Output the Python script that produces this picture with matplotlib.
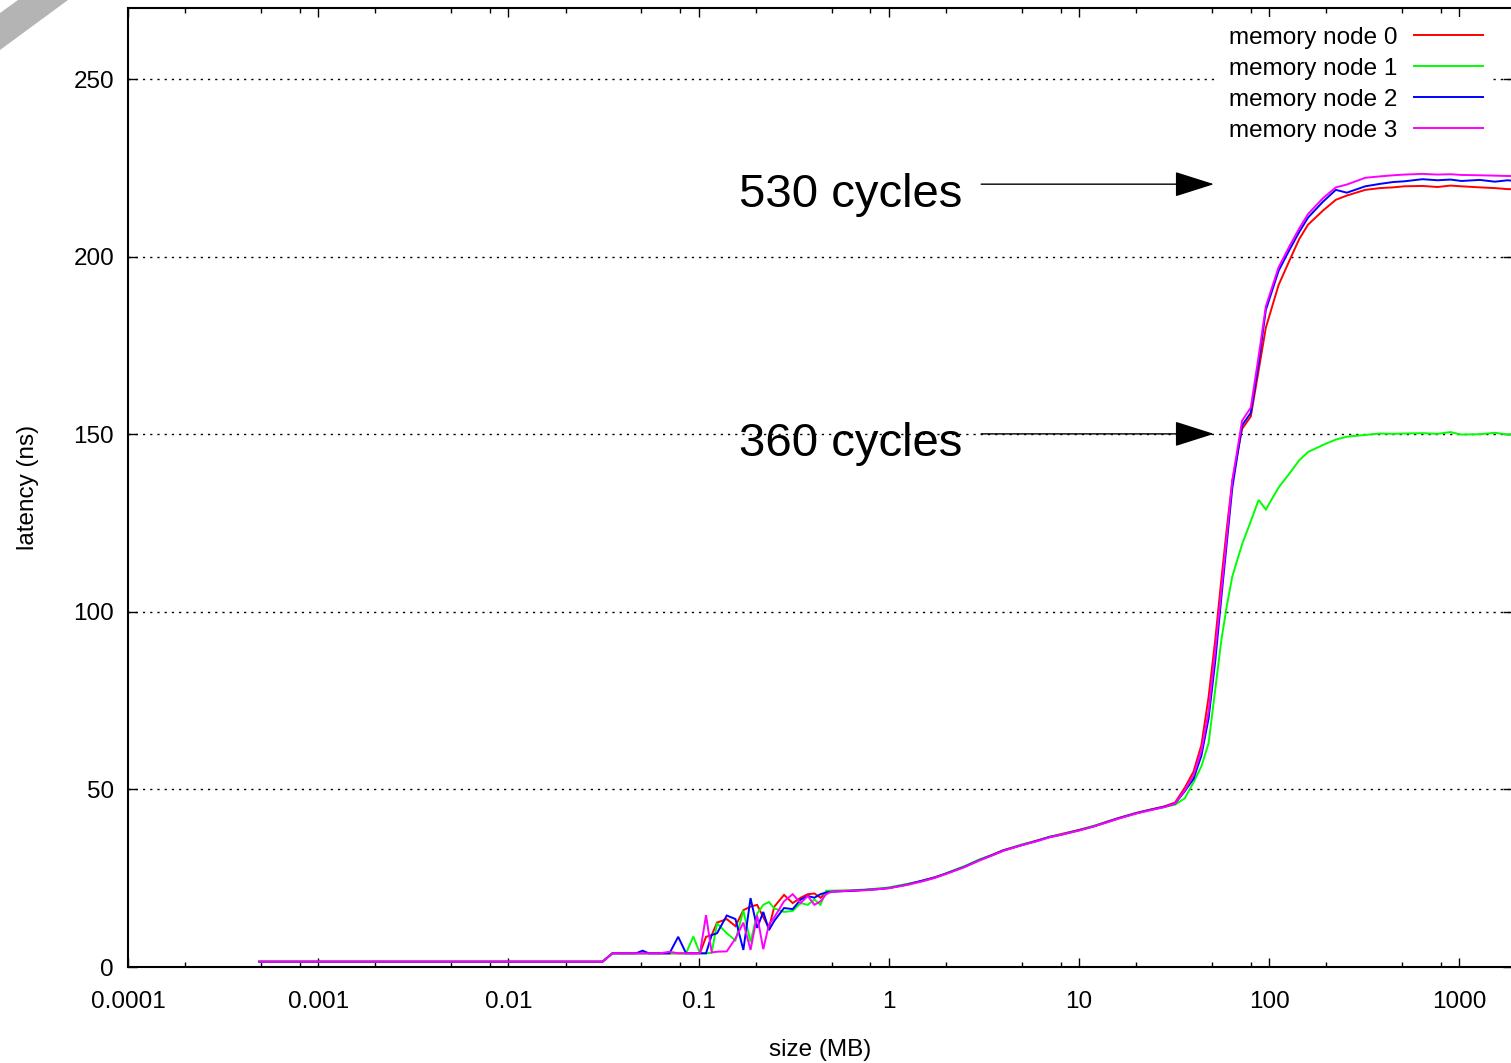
import matplotlib
matplotlib.use('Agg')
import matplotlib.pyplot as plt
from matplotlib.ticker import LogLocator, FixedLocator, FixedFormatter, NullFormatter
from matplotlib.patches import Polygon

plt.rcParams['font.family'] = ['Liberation Sans', 'DejaVu Sans']

# ---------------- data ----------------
sizes_mb = [
    0.00049, 0.00098, 0.00195, 0.0039, 0.0078, 0.0156, 0.03125,
    0.0352, 0.0391, 0.043, 0.0469, 0.0508, 0.0547, 0.0586, 0.0625,
    0.0703, 0.0781, 0.0859, 0.0938, 0.1016, 0.1094, 0.1172, 0.125,
    0.1406, 0.1562, 0.1719, 0.1875, 0.2031, 0.2188, 0.2344, 0.25,
    0.2812, 0.3125, 0.3438, 0.375, 0.4062, 0.4375, 0.4688, 0.5,
    0.625, 0.75, 0.875, 1, 1.25, 1.5, 1.75, 2,
    2.5, 3, 3.5, 4, 5, 6, 7, 8,
    10, 12, 14, 16, 20, 24, 28, 32,
    36, 40, 44, 48, 52, 56, 60, 64,
    72, 80, 88, 96, 112, 128, 144, 160,
    192, 224, 256, 320, 384, 448, 512, 640,
    768, 896, 1024, 1280, 1536, 1792, 2048,
]

node0 = [
    1.5, 1.5, 1.5, 1.5, 1.5, 1.5, 1.5,
    3.85, 3.85, 3.85, 3.85, 3.85, 3.85, 3.85, 3.85,
    3.85, 3.85, 3.85, 3.85, 3.9, 8.5, 9.0, 12.5,
    13.5, 11.5, 16.0, 17.0, 17.5, 14.0, 11.0, 17.0,
    20.3, 18.0, 19.5, 20.5, 20.7, 19.5, 21.0, 21.3,
    21.5, 21.7, 22.0, 22.3, 23.3, 24.3, 25.3, 26.3,
    28.3, 30.2, 31.6, 32.9, 34.4, 35.6, 36.6, 37.4,
    38.6, 39.7, 40.9, 41.9, 43.4, 44.4, 45.2, 46.3,
    50.5, 55.0, 62.5, 76.0, 92.0, 109.0, 124.0, 137.0,
    151.5, 155.0, 168.0, 180.0, 192.0, 199.0, 205.0, 209.0,
    213.0, 216.0, 217.2, 218.8, 219.3, 219.5, 219.8, 219.9,
    219.6, 220.0, 219.8, 219.5, 219.3, 219.0, 219.0,
]

node1 = [
    1.5, 1.5, 1.5, 1.5, 1.5, 1.5, 1.5,
    3.85, 3.85, 3.85, 3.85, 3.85, 3.85, 3.85, 3.85,
    3.85, 3.85, 3.85, 8.6, 3.85, 3.85, 4.0, 12.3,
    9.5, 7.5, 15.9, 7.0, 15.0, 17.5, 18.3, 16.5,
    15.5, 15.8, 18.0, 17.5, 19.0, 17.5, 21.5, 21.5,
    21.6, 21.8, 22.1, 22.4, 23.4, 24.2, 25.2, 26.4,
    28.4, 30.3, 31.5, 32.8, 34.5, 35.5, 36.7, 37.3,
    38.5, 39.8, 40.8, 41.8, 43.3, 44.3, 45.0, 45.7,
    47.5, 52.0, 56.5, 63.0, 78.0, 92.0, 102.0, 110.0,
    119.0, 125.5, 131.5, 128.8, 135.0, 139.0, 142.7, 145.0,
    147.0, 148.5, 149.3, 149.8, 150.2, 150.1, 150.2, 150.3,
    150.1, 150.6, 149.9, 150.0, 150.4, 149.9, 150.1,
]

node2 = [
    1.5, 1.5, 1.5, 1.5, 1.5, 1.5, 1.5,
    3.85, 3.85, 3.85, 3.85, 4.6, 3.85, 3.85, 3.85,
    3.85, 8.5, 3.85, 3.85, 3.85, 3.85, 9.0, 9.5,
    14.5, 13.5, 4.8, 19.4, 11.0, 15.5, 10.4, 13.0,
    16.6, 16.3, 19.0, 20.0, 19.5, 20.5, 21.0, 21.2,
    21.4, 21.7, 21.9, 22.2, 23.2, 24.3, 25.2, 26.3,
    28.2, 30.1, 31.5, 32.8, 34.3, 35.5, 36.6, 37.2,
    38.5, 39.6, 40.8, 41.8, 43.3, 44.3, 45.1, 46.0,
    49.5, 53.0, 59.5, 70.0, 86.0, 104.0, 120.0, 135.0,
    152.5, 156.0, 170.0, 185.0, 196.0, 202.0, 207.0, 211.0,
    215.5, 218.8, 218.0, 219.8, 220.5, 221.0, 221.2, 221.8,
    221.5, 221.7, 221.3, 221.6, 221.1, 221.5, 221.2,
]

node3 = [
    1.5, 1.5, 1.5, 1.5, 1.5, 1.5, 1.5,
    3.85, 3.85, 3.85, 3.85, 3.85, 3.85, 3.85, 3.85,
    4.3, 3.85, 3.85, 3.85, 3.85, 14.6, 4.1, 4.3,
    4.4, 8.0, 12.5, 4.8, 14.5, 5.0, 12.0, 14.0,
    18.5, 20.5, 18.0, 20.0, 17.5, 18.5, 20.5, 21.2,
    21.5, 21.6, 21.9, 22.2, 23.1, 24.1, 25.1, 26.2,
    28.1, 30.0, 31.4, 32.7, 34.3, 35.4, 36.5, 37.2,
    38.4, 39.6, 40.7, 41.7, 43.2, 44.2, 45.0, 46.0,
    49.8, 54.0, 61.0, 72.0, 89.0, 106.0, 122.0, 137.0,
    153.8, 157.5, 172.0, 186.0, 197.0, 203.0, 208.0, 212.0,
    216.5, 219.5, 220.3, 222.2, 222.6, 222.9, 223.1, 223.3,
    223.1, 223.2, 223.0, 222.9, 222.8, 222.7, 222.7,
]

series_labels = ['memory node 0', 'memory node 1', 'memory node 2', 'memory node 3']
series_colors = ['#ff0000', '#00ff00', '#0000ff', '#ff00ff']

xtick_values = [1e-4, 1e-3, 1e-2, 0.1, 1, 10, 100, 1000]
xtick_labels = ['0.0001', '0.001', '0.01', '0.1', '1', '10', '100', '1000']
ytick_values = [0, 50, 100, 150, 200, 250]

annot_texts = ['530 cycles', '360 cycles']
annot_levels = [220.4, 150.1]

# ---------------- figure ----------------
W, H = 1511, 1063
fig = plt.figure(figsize=(W / 100, H / 100), dpi=100)
ax = fig.add_axes([128 / W, (H - 967) / H, (1512 - 128) / W, (967 - 8) / H])

for ys, lab, col in zip([node0, node1, node2, node3], series_labels, series_colors):
    ax.plot(sizes_mb, ys, color=col, lw=1.4, label=lab, solid_joinstyle='miter')

ax.set_xscale('log')
ax.set_xlim(1e-4, 1890)
ax.set_ylim(0, 270)

ax.xaxis.set_major_locator(FixedLocator(xtick_values))
ax.xaxis.set_major_formatter(FixedFormatter(xtick_labels))
ax.xaxis.set_minor_locator(LogLocator(base=10, subs=[2, 5, 8], numticks=20))
ax.xaxis.set_minor_formatter(NullFormatter())
ax.yaxis.set_major_locator(FixedLocator(ytick_values))

ax.tick_params(which='both', direction='in', top=True, right=True, width=1.0, colors='black')
ax.tick_params(which='major', length=6.5)
ax.tick_params(which='minor', length=3.5)
ax.tick_params(axis='x', which='major', labelsize=17.5, pad=17)
ax.tick_params(axis='y', which='major', labelsize=17.5, pad=10)

for s in ['left', 'bottom', 'top']:
    ax.spines[s].set_linewidth(1.5)
ax.spines['right'].set_visible(False)

ax.yaxis.grid(True, color='black', linestyle=(0, (1.6, 3.6)), linewidth=1.0)
ax.set_axisbelow(True)

ax.set_xlabel('size (MB)', fontsize=17.5)
ax.xaxis.set_label_coords(0.5, -0.075)
ax.set_ylabel('latency (ns)', fontsize=17.5)
ax.yaxis.set_label_coords(-0.064, 0.5)

for txt, lev in zip(annot_texts, annot_levels):
    ax.annotate('', xy=(51.2, lev), xytext=(3.06, lev),
                arrowprops=dict(arrowstyle='-|>,head_length=1.26,head_width=0.4',
                                mutation_scale=20, color='black', lw=1.0,
                                shrinkA=0, shrinkB=0))
    ax.text(2.43, lev - 6.3, txt, fontsize=34, ha='right', va='baseline', color='black')

leg = ax.legend(loc='upper right', bbox_to_anchor=(0.9896, 0.9958), markerfirst=False,
                frameon=True, facecolor='white', edgecolor='none', framealpha=1.0,
                fontsize=17.5, handlelength=2.86, handletextpad=0.66,
                labelspacing=0.37, borderpad=0.4, borderaxespad=0.2, fancybox=False)
leg.get_frame().set_linewidth(0)

fig.patches.append(Polygon([[0, 1 - 13 / H], [0, 1 - 50 / H], [68 / W, 1], [18 / W, 1]],
                           closed=True, transform=fig.transFigure,
                           facecolor='#b4b4b4', edgecolor='none'))

fig.savefig('out.png', dpi=100)
